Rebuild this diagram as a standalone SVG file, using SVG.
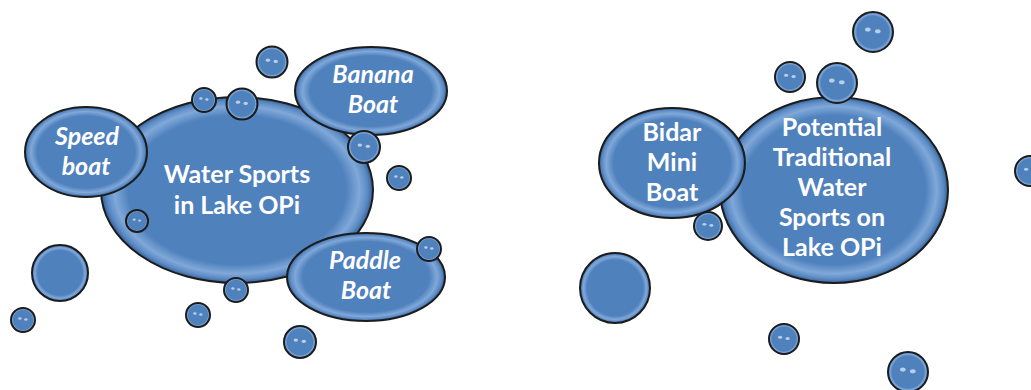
<svg xmlns="http://www.w3.org/2000/svg" xmlns:xlink="http://www.w3.org/1999/xlink" width="1031" height="390" viewBox="0 0 1031 390">
<style>
.blob{fill:url(#g);stroke:#1c1c1c;stroke-width:2}
.t{fill:#fff;font-family:Lato,"Open Sans",sans-serif;font-weight:bold;font-size:25px;text-anchor:middle}
.i{font-style:italic}
.hl{fill:#e6f0ff;opacity:0.7}
</style>
<defs>
<radialGradient id="g" cx="0.5" cy="0.5" r="0.5">
<stop offset="0" stop-color="#4f81bd"/>
<stop offset="0.8" stop-color="#4f81bd"/>
<stop offset="0.9" stop-color="#80a8d9"/>
<stop offset="0.96" stop-color="#5a8ac4"/>
<stop offset="1" stop-color="#365f94"/>
</radialGradient>
<g id="b">
<circle r="10" class="blob" vector-effect="non-scaling-stroke"/>
<ellipse cx="-2.6" cy="-1.2" rx="1.4" ry="1" class="hl"/>
<ellipse cx="2.4" cy="-0.4" rx="1.4" ry="1" class="hl"/>
</g>
<g id="bb">
<circle r="10" class="blob" vector-effect="non-scaling-stroke"/>
</g>
</defs>
<rect width="1031" height="390" fill="#fff"/>

<g id="water-sports">
<ellipse cx="237" cy="190" rx="136" ry="93" class="blob"/>
<text class="t" x="237" y="183">Water Sports</text>
<text class="t" x="237" y="214">in Lake OPi</text>
</g>
<g id="speed-boat">
<ellipse cx="86" cy="152" rx="61" ry="45" class="blob"/>
<text class="t i" x="87" y="145">Speed</text>
<text class="t i" x="86" y="175">boat</text>
</g>
<g id="banana-boat">
<ellipse cx="371" cy="91" rx="76" ry="44" class="blob"/>
<text class="t i" x="373" y="83">Banana</text>
<text class="t i" x="373" y="113">Boat</text>
</g>
<g id="paddle-boat">
<ellipse cx="366" cy="277" rx="79" ry="44" class="blob"/>
<text class="t i" x="365" y="269">Paddle</text>
<text class="t i" x="366" y="299">Boat</text>
</g>

<g id="potential">
<ellipse cx="834" cy="190" rx="114" ry="93" class="blob"/>
<text class="t" x="832" y="136">Potential</text>
<text class="t" x="832" y="166">Traditional</text>
<text class="t" x="832" y="196">Water</text>
<text class="t" x="832" y="226">Sports on</text>
<text class="t" x="832" y="256">Lake OPi</text>
</g>
<g id="bidar">
<ellipse cx="672" cy="163" rx="73" ry="55" class="blob"/>
<text class="t" x="672" y="141">Bidar</text>
<text class="t" x="672" y="171">Mini</text>
<text class="t" x="672" y="201">Boat</text>
</g>

<g id="bubbles">
<use xlink:href="#b" transform="translate(272,62) scale(1.55)"/>
<use xlink:href="#b" transform="translate(204,100) scale(1.2)"/>
<use xlink:href="#b" transform="translate(242,104) scale(1.55)"/>
<use xlink:href="#b" transform="translate(364,147) scale(1.6)"/>
<use xlink:href="#b" transform="translate(399,178) scale(1.2)"/>
<use xlink:href="#b" transform="translate(137,221) scale(1.1)"/>
<use xlink:href="#bb" transform="translate(60,273) scale(2.8)"/>
<use xlink:href="#b" transform="translate(23,320) scale(1.2)"/>
<use xlink:href="#b" transform="translate(236,290) scale(1.2)"/>
<use xlink:href="#b" transform="translate(198,315) scale(1.2)"/>
<use xlink:href="#b" transform="translate(300,342) scale(1.6)"/>
<use xlink:href="#b" transform="translate(429,249) scale(1.2)"/>
<use xlink:href="#b" transform="translate(873,32) scale(2)"/>
<use xlink:href="#b" transform="translate(790,77) scale(1.5)"/>
<use xlink:href="#b" transform="translate(837,83) scale(2)"/>
<use xlink:href="#b" transform="translate(708,226) scale(1.4)"/>
<use xlink:href="#bb" transform="translate(615,288) scale(3.5)"/>
<use xlink:href="#b" transform="translate(784,339) scale(1.5)"/>
<use xlink:href="#b" transform="translate(908,372) scale(2)"/>
<use xlink:href="#b" transform="translate(1030,171) scale(1.5)"/>
</g>
</svg>
